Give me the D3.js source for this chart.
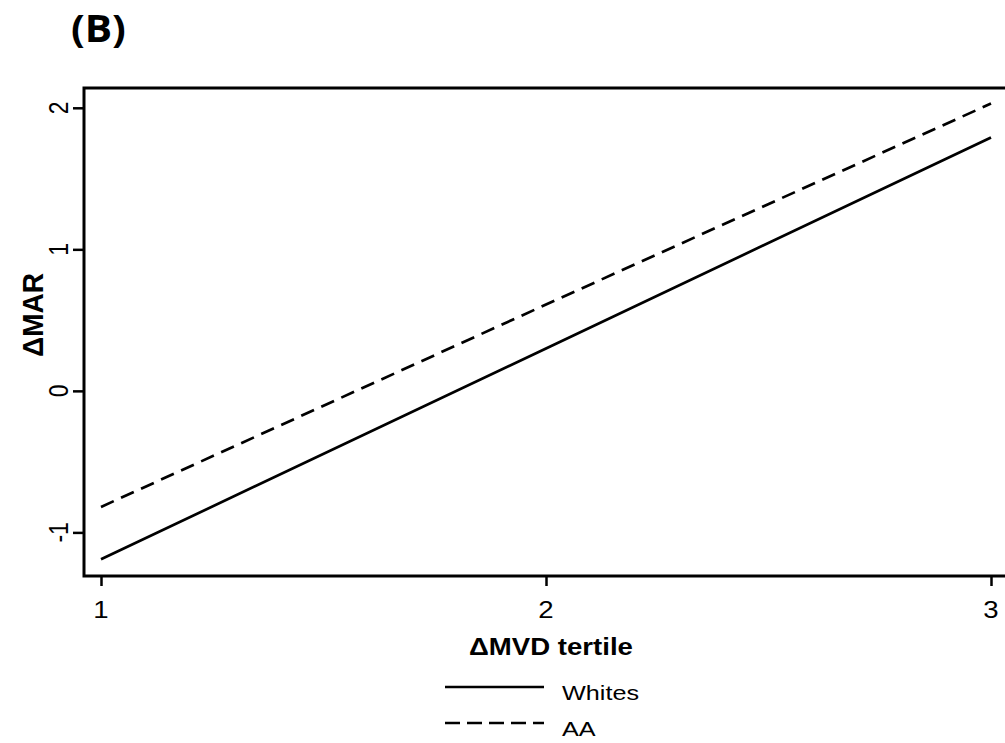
<!DOCTYPE html>
<html>
<head>
<meta charset="utf-8">
<script src="https://cdn.jsdelivr.net/npm/d3@7"></script>
<style>
  html, body { margin: 0; padding: 0; background: #fff; }
  svg { display: block; }
</style>
</head>
<body>
<script>
// Predicted ΔMAR by ΔMVD tertile, per group (linear fits)
const tertiles = [1, 2, 3];
const whites = [-1.19, 0.30, 1.79];
const aa = [-0.82, 0.61, 2.03];
const xTicks = [1, 2, 3];
const yTicks = [-1, 0, 1, 2];
const seriesNames = ["Whites", "AA"];

const W = 1005, H = 743;
const sx = 1.2; // horizontal text stretch of the exported graph
const font = "'Liberation Sans', Arial, Helvetica, sans-serif";

const svg = d3.select("body").append("svg")
  .attr("width", W).attr("height", H);

const x = d3.scaleLinear().domain([1, 3]).range([101, 991]);
const y = d3.scaleLinear().domain([-1, 2]).range([532.4, 107.8]);

const frame = { left: 84, top: 88, bottom: 576, right: 1030 };

// text helper with horizontal stretch
function label(g, tx, ty, txt, opts) {
  const rot = opts.rotate ? ` rotate(${opts.rotate})` : "";
  return g.append("text")
    .attr("transform", `translate(${tx},${ty}) scale(${opts.sx ?? sx},1)${rot}`)
    .attr("text-anchor", opts.anchor || "middle")
    .attr("font-family", opts.family || font)
    .attr("font-size", opts.size)
    .attr("font-weight", opts.weight || "normal")
    .attr("fill", "#000")
    .text(txt);
}

// panel tag
label(svg, 71, 42, "(B)", { anchor: "start", size: 37, weight: "bold",
  family: "'Open Sans', 'Noto Sans', sans-serif", sx: 1.1 });

// plot frame
svg.append("rect")
  .attr("x", frame.left).attr("y", frame.top)
  .attr("width", frame.right - frame.left).attr("height", frame.bottom - frame.top)
  .attr("fill", "none").attr("stroke", "#000").attr("stroke-width", 3);

// x axis ticks and labels
const xAxis = d3.axisBottom(x).tickValues(xTicks).tickSize(10).tickFormat(d3.format("d"));
const gx = svg.append("g").attr("transform", `translate(0,${frame.bottom})`).call(xAxis);
gx.select(".domain").remove();
gx.selectAll(".tick line").attr("stroke", "#000").attr("stroke-width", 2.5);
gx.selectAll(".tick text").remove();
xTicks.forEach(t => label(svg, x(t), 618, String(t), { size: 23 }));

// y axis ticks and labels
const yAxis = d3.axisLeft(y).tickValues(yTicks).tickSize(11).tickFormat(d3.format("d"));
const gy = svg.append("g").attr("transform", `translate(${frame.left},0)`).call(yAxis);
gy.select(".domain").remove();
gy.selectAll(".tick line").attr("stroke", "#000").attr("stroke-width", 2.5);
gy.selectAll(".tick text").remove();
yTicks.forEach(t => label(svg, 68, y(t), String(t), { size: 23, rotate: -90 }));

// axis titles
label(svg, 551, 655, "ΔMVD tertile", { size: 23, weight: "bold" });
label(svg, 43, 315, "ΔMAR", { size: 28, weight: "bold", rotate: -90, sx: 1.08 });

// fitted lines
const line = d3.line().x((d, i) => x(tertiles[i])).y(d => y(d));
const series = [
  { name: seriesNames[0], values: whites, dash: null },
  { name: seriesNames[1], values: aa, dash: "14,8" }
];
series.forEach(s => {
  svg.append("path")
    .datum(s.values)
    .attr("d", line)
    .attr("fill", "none")
    .attr("stroke", "#000")
    .attr("stroke-width", 2.7)
    .attr("stroke-dasharray", s.dash);
});

// legend
const legendY = [687, 723];
series.forEach((s, i) => {
  svg.append("line")
    .attr("x1", 445).attr("x2", 544)
    .attr("y1", legendY[i]).attr("y2", legendY[i])
    .attr("stroke", "#000").attr("stroke-width", 2.7)
    .attr("stroke-dasharray", s.dash ? "15,7" : null);
  label(svg, 562, legendY[i] + 12.5, s.name, { anchor: "start", size: 21 });
});
</script>
</body>
</html>
